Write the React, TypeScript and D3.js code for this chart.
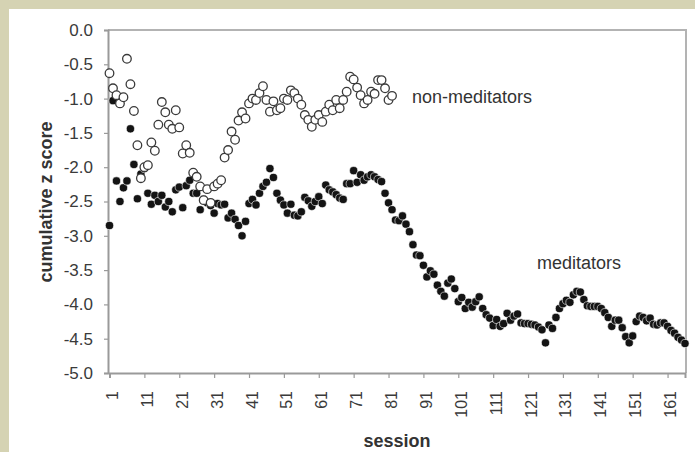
import React, { useEffect, useRef } from "react";
import * as d3 from "d3";

// cumulative z score per session
const meditators: number[] = [
  -2.85, -1.03, -2.2, -2.5, -2.3, -2.2, -1.44, -1.96, -2.46, -2.1,
  -2.02, -2.38, -2.54, -2.41, -2.5, -2.41, -2.58, -2.5, -2.65, -2.33,
  -2.29, -2.59, -2.27, -2.19, -2.38, -2.38, -2.62, -2.47, -2.52, -2.56,
  -2.67, -2.53, -2.55, -2.54, -2.74, -2.67, -2.76, -2.85, -3.0, -2.79,
  -2.53, -2.47, -2.55, -2.38, -2.28, -2.22, -2.02, -2.15, -2.38, -2.48,
  -2.55, -2.67, -2.54, -2.7, -2.71, -2.65, -2.44, -2.49, -2.57, -2.5,
  -2.43, -2.53, -2.26, -2.33, -2.36, -2.4, -2.45, -2.47, -2.24, -2.24,
  -2.05, -2.22, -2.11, -2.19, -2.14, -2.11, -2.14, -2.18, -2.21, -2.38,
  -2.52, -2.62, -2.77, -2.78, -2.71, -2.83, -2.94, -3.13, -3.28, -3.29,
  -3.43, -3.6, -3.51, -3.56, -3.72, -3.81, -3.88, -3.69, -3.63, -3.77,
  -3.96, -3.9, -4.06, -3.97, -4.04, -3.96, -3.89, -4.06, -4.15, -4.2,
  -4.31, -4.22, -4.32, -4.28, -4.13, -4.23, -4.17, -4.14, -4.27, -4.28,
  -4.28, -4.29, -4.3, -4.33, -4.37, -4.56, -4.3, -4.35, -4.19, -4.06,
  -3.99, -3.94, -3.97, -3.86, -3.81, -3.82, -3.93, -4.02, -4.03, -4.03,
  -4.03, -4.06, -4.12, -4.19, -4.32, -4.23, -4.23, -4.34, -4.47, -4.56,
  -4.46, -4.25, -4.17, -4.19, -4.24, -4.2, -4.29, -4.3, -4.27, -4.27,
  -4.32, -4.38, -4.42, -4.48, -4.52, -4.57,
];

const nonMeditators: number[] = [
  -0.63, -0.85, -0.95, -1.07, -0.98, -0.42, -0.79, -1.18, -1.68, -2.16,
  -2.0, -1.97, -1.64, -1.76, -1.38, -1.05, -1.2, -1.38, -1.44, -1.17,
  -1.42, -1.8, -1.68, -1.79, -2.08, -2.14, -2.28, -2.48, -2.32, -2.52,
  -2.28, -2.24, -2.19, -1.86, -1.75, -1.48, -1.6, -1.32, -1.2, -1.29,
  -1.07, -1.0, -1.02, -0.92, -0.82, -1.02, -1.19, -1.04, -1.17, -1.14,
  -1.0, -1.02, -0.88, -0.92, -1.0, -1.09, -1.24, -1.31, -1.41, -1.31,
  -1.24, -1.34, -1.19, -1.09, -1.17, -1.02, -1.14, -1.02, -0.9, -0.68,
  -0.72, -0.84, -0.95, -1.07, -1.02, -0.9, -0.93, -0.73, -0.73, -0.85,
  -1.02, -0.96,
];

const yTickValues: number[] = [0, -0.5, -1, -1.5, -2, -2.5, -3, -3.5, -4, -4.5, -5];
const xTickSessions: number[] = [1, 11, 21, 31, 41, 51, 61, 71, 81, 91, 101, 111, 121, 131, 141, 151, 161];

const App: React.FC = () => {
  const svgRef = useRef<SVGSVGElement>(null);

  useEffect(() => {
    if (!svgRef.current) return;
    const width = 695;
    const height = 452;
    const plot = { left: 108, right: 686, top: 30, bottom: 373 };
    const font = "'Liberation Sans', Arial, sans-serif";

    const svg = d3.select(svgRef.current);
    svg.selectAll("*").remove();
    svg.attr("width", width).attr("height", height);

    // textured frame + white panel
    svg.append("rect").attr("width", width).attr("height", height).attr("fill", "#d5d3b3");
    svg
      .append("rect")
      .attr("x", 9)
      .attr("y", 9)
      .attr("width", width - 9)
      .attr("height", height - 9)
      .attr("fill", "#ffffff");

    const x = d3.scaleLinear().domain([1, 166]).range([109.5, 685]);
    const y = d3.scaleLinear().domain([-5, 0]).range([plot.bottom, plot.top]);

    // top / right border of plot area
    svg
      .append("path")
      .attr("d", `M${plot.left},${plot.top}H${plot.right}V${plot.bottom}`)
      .attr("fill", "none")
      .attr("stroke", "#b3b3b3")
      .attr("stroke-width", 2);

    const fmt = (d: d3.NumberValue) => (+d).toFixed(1).replace("-0.0", "0.0");

    const gy = svg
      .append("g")
      .attr("transform", `translate(${plot.left},0)`)
      .call(d3.axisLeft(y).tickValues(yTickValues).tickSize(4).tickPadding(11).tickFormat(fmt));

    const gx = svg
      .append("g")
      .attr("transform", `translate(0,${plot.bottom})`)
      .call(
        d3
          .axisBottom(x)
          .tickValues(xTickSessions)
          .tickSize(5)
          .tickFormat((d) => String(d))
      );

    [gx, gy].forEach((g) => {
      g.select(".domain").attr("stroke", "#9a9a9a").attr("stroke-width", 2);
      g.selectAll(".tick line").attr("stroke", "#9a9a9a").attr("stroke-width", 1.2);
      g.selectAll(".tick text").attr("fill", "#3a3a3a").attr("font-family", font);
    });
    gy.selectAll(".tick text").attr("font-size", 17);
    gx.selectAll(".tick text")
      .attr("font-size", 16)
      .attr("transform", "rotate(-90)")
      .attr("text-anchor", "end")
      .attr("x", -18)
      .attr("y", 0)
      .attr("dy", "0.5em");

    // meditators (filled)
    svg
      .append("g")
      .selectAll("circle")
      .data(meditators)
      .join("circle")
      .attr("cx", (_, i) => x(i + 1))
      .attr("cy", (d) => y(d))
      .attr("r", 4.1)
      .attr("fill", "#141414")
      .attr("stroke", "#ffffff")
      .attr("stroke-width", 0.6);

    // non-meditators (open)
    svg
      .append("g")
      .selectAll("circle")
      .data(nonMeditators)
      .join("circle")
      .attr("cx", (_, i) => x(i + 1))
      .attr("cy", (d) => y(d))
      .attr("r", 4.3)
      .attr("fill", "#ffffff")
      .attr("stroke", "#3a3a3a")
      .attr("stroke-width", 1.3);

    svg
      .append("text")
      .attr("x", 412)
      .attr("y", 103)
      .attr("font-family", font)
      .attr("font-size", 18)
      .attr("fill", "#333")
      .text("non-meditators");

    svg
      .append("text")
      .attr("x", 537)
      .attr("y", 268.5)
      .attr("font-family", font)
      .attr("font-size", 18)
      .attr("fill", "#333")
      .text("meditators");

    svg
      .append("text")
      .attr("transform", "translate(52,202) rotate(-90)")
      .attr("text-anchor", "middle")
      .attr("font-family", font)
      .attr("font-size", 18)
      .attr("font-weight", "bold")
      .attr("fill", "#333")
      .text("cumulative z score");

    svg
      .append("text")
      .attr("x", 397)
      .attr("y", 447)
      .attr("text-anchor", "middle")
      .attr("font-family", font)
      .attr("font-size", 18)
      .attr("font-weight", "bold")
      .attr("fill", "#333")
      .text("session");
  }, []);

  return (
    <div style={{ position: "absolute", left: 0, top: 0 }}>
      <svg ref={svgRef} style={{ display: "block" }} />
    </div>
  );
};

export default App;
